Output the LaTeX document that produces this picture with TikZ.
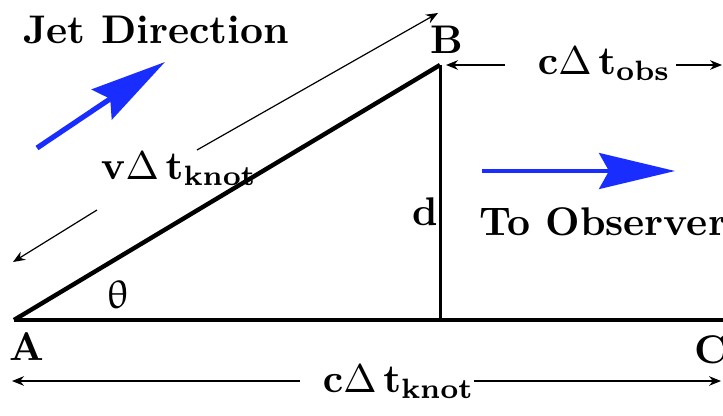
\documentclass[tikz,border=0pt]{standalone}
\usepackage{upgreek}
\usetikzlibrary{arrows.meta}
\definecolor{jetblue}{RGB}{25,45,255}

\begin{document}
\begin{tikzpicture}[x=0.25pt,y=-0.25pt,
        lab/.style={font=\bfseries},
        dimline/.style={line width=0.3pt,-{Stealth[length=3pt,width=2.4pt]}},
        bluearrow/.style={jetblue,-{Stealth[length=19pt,width=9pt,inset=2.5pt]}}]
            \useasboundingbox (0,0) rectangle (723,415);

            \coordinate (A) at (14,320);
            \coordinate (B) at (440,65);
            \coordinate (C) at (723,320);
            \coordinate (D) at (440,320);

            \draw[line width=0.9pt] (A)--(C);
            \draw[line width=0.75pt] (B)--(D);
            \draw[line width=1.1pt] (A)--(B);

            \node[lab] (labA) at (27,347) {A};
            \node[lab] (labB) at (447,40) {B};
            \node[lab] (labC) at (711,350) {C};
            \node[lab] (labd) at (425,212) {d};
            \node (theta) at (118,295) {$\uptheta$};

            % velocity along the jet
            \node[anchor=base west,inner sep=0] (vknot) at (100,180) {$\mathbf{v}\Delta\,\mathbf{t}_{\mathbf{knot}}$};
            \coordinate (vlow) at (13,262);
            \coordinate (vhigh) at (438,13);
            \coordinate (vgapl) at (97,210);
            \coordinate (vgaph) at (197,150);
            \draw[dimline] (vgapl)--(vlow);
            \draw[dimline] (vgaph)--(vhigh);

            % observed path difference
            \node[anchor=base west,inner sep=0] (tobs) at (537,75) {$\mathbf{c}\Delta\,\mathbf{t}_{\mathbf{obs}}$};
            \coordinate (obsl) at (446,65);
            \coordinate (obsgl) at (505,65);
            \coordinate (obsgr) at (676,65);
            \coordinate (obsr) at (722,65);
            \draw[dimline] (obsgl)--(obsl);
            \draw[dimline] (obsgr)--(obsr);

            % knot travel
            \node[anchor=base west,inner sep=0] (tknot) at (322,392) {$\mathbf{c}\Delta\,\mathbf{t}_{\mathbf{knot}}$};
            \coordinate (knl) at (12,381);
            \coordinate (kngl) at (300,381);
            \coordinate (kngr) at (474,381);
            \coordinate (knr) at (721,381);
            \draw[dimline] (kngl)--(knl);
            \draw[dimline] (kngr)--(knr);

            % blue arrows
            \node[lab] (jetdir) at (156,30) {Jet Direction};
            \coordinate (jet0) at (37,148);
            \coordinate (jet1) at (165,62);
            \draw[bluearrow,line width=1.3pt] (jet0)--(jet1);

            \node[lab] (toobs) at (603,222) {To Observer};
            \coordinate (obs0) at (482,171);
            \coordinate (obs1) at (675,171);
            \draw[bluearrow,line width=0.8pt] (obs0)--(obs1);
        \end{tikzpicture}
\end{document}
